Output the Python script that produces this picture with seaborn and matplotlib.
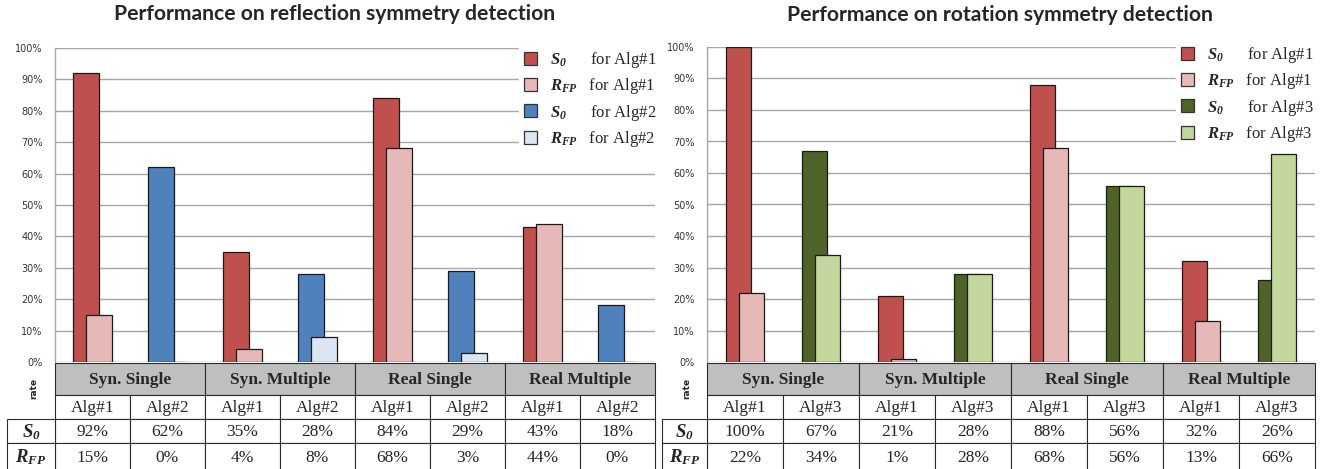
import numpy as np
import pandas as pd
import matplotlib
matplotlib.use("Agg")
import matplotlib.pyplot as plt
import seaborn as sns
from matplotlib.patches import Rectangle, Patch

# ---------------- data ----------------
categories = ["Syn. Single", "Syn. Multiple", "Real Single", "Real Multiple"]
algs_left = ["Alg#1", "Alg#2"]
algs_right = ["Alg#1", "Alg#3"]

refl_alg1_s0 = [92, 35, 84, 43]
refl_alg1_rfp = [15, 4, 68, 44]
refl_alg2_s0 = [62, 28, 29, 18]
refl_alg2_rfp = [0, 8, 3, 0]

rot_alg1_s0 = [100, 21, 88, 32]
rot_alg1_rfp = [22, 1, 68, 13]
rot_alg3_s0 = [67, 28, 56, 26]
rot_alg3_rfp = [34, 28, 56, 66]

ytick_vals = [0, 10, 20, 30, 40, 50, 60, 70, 80, 90, 100]
ytick_labels = [f"{v}%" for v in ytick_vals]

title_left = "Performance on reflection symmetry detection"
title_right = "Performance on rotation symmetry detection"

colors_left = {"S0 Alg#1": "#C0504D", "RFP Alg#1": "#E6B9B8",
               "S0 Alg#2": "#4F81BD", "RFP Alg#2": "#DCE6F2"}
colors_right = {"S0 Alg#1": "#C0504D", "RFP Alg#1": "#E6B9B8",
                "S0 Alg#3": "#4F6228", "RFP Alg#3": "#C3D69B"}

# ---------------- style ----------------
sns.set_theme(style="white")
plt.rcParams["font.family"] = ["DejaVu Sans"]
plt.rcParams["mathtext.fontset"] = "custom"
plt.rcParams["mathtext.it"] = "Liberation Serif:italic:bold"
plt.rcParams["mathtext.rm"] = "Liberation Serif:italic:bold"
plt.rcParams["mathtext.bf"] = "Liberation Serif:italic:bold"

W, H = 1321, 469
fig = plt.figure(figsize=(W / 100, H / 100), dpi=100)


def ax_px(x0, y0, x1, y1, **kw):
    return fig.add_axes([x0 / W, 1 - y1 / H, (x1 - x0) / W, (y1 - y0) / H], **kw)


OFF = 0.087
BW = 0.335
SERIF = "Liberation Serif"
S0_TXT = r"$\mathit{S_0}$"
RFP_TXT = r"$\mathit{R_{FP}}$"


def draw_bars(ax, algs, s0_a, rfp_a, s0_b, rfp_b, colors):
    rows = []
    for g in range(len(categories)):
        for k, (alg, s0, rfp) in enumerate([(algs[0], s0_a[g], rfp_a[g]),
                                            (algs[1], s0_b[g], rfp_b[g])]):
            col = 2 * g + k
            rows.append(dict(pos=col - OFF, val=s0 / 100, series=f"S0 {alg}", metric="S0"))
            rows.append(dict(pos=col + OFF, val=rfp / 100, series=f"RFP {alg}", metric="RFP"))
    df = pd.DataFrame(rows)
    for z, metric in enumerate(["S0", "RFP"]):
        sub = df[df.metric == metric]
        sns.barplot(data=sub, x="pos", y="val", hue="series", palette=colors,
                    native_scale=True, width=BW, dodge=False, errorbar=None,
                    saturation=1, edgecolor="#1a1a1a", linewidth=0.9,
                    legend=False, ax=ax, zorder=3 + z)
    ax.set_xlim(-0.5, 7.5)
    ax.set_ylim(0, 1)
    ax.set_yticks([v / 100 for v in ytick_vals])
    ax.set_yticklabels(ytick_labels, fontsize=7, color="#333333")
    ax.tick_params(axis="y", length=0, pad=9)
    ax.set_xticks([])
    ax.set_xlabel("")
    ax.set_ylabel("")
    ax.grid(axis="y", color="#A6A6A6", linewidth=1.0)
    ax.set_axisbelow(True)
    for s in ["top", "right", "bottom"]:
        ax.spines[s].set_visible(False)
    ax.spines["left"].set_color("#A6A6A6")
    ax.spines["left"].set_linewidth(1.0)
    ax.patch.set_alpha(0)

    handles = [Patch(facecolor=colors[f"S0 {algs[0]}"], edgecolor="#333333", lw=0.9),
               Patch(facecolor=colors[f"RFP {algs[0]}"], edgecolor="#333333", lw=0.9),
               Patch(facecolor=colors[f"S0 {algs[1]}"], edgecolor="#333333", lw=0.9),
               Patch(facecolor=colors[f"RFP {algs[1]}"], edgecolor="#333333", lw=0.9)]
    labels = [S0_TXT + "      for " + algs[0], RFP_TXT + "   for " + algs[0],
              S0_TXT + "      for " + algs[1], RFP_TXT + "   for " + algs[1]]
    return handles, labels


def add_legend(ax, handles, labels, x, y, w):
    leg = ax.legend(handles, labels, loc="upper left",
                    bbox_to_anchor=(x / W, 1 - y / H, w / W, 0.0001),
                    bbox_transform=fig.transFigure, mode="expand",
                    frameon=True, fancybox=False, framealpha=1,
                    edgecolor="white", facecolor="white",
                    prop={"family": SERIF, "size": 12}, handlelength=0.8,
                    handleheight=0.8, labelspacing=0.38, handletextpad=0.75,
                    borderpad=0.3, borderaxespad=0)
    leg.set_zorder(10)
    return leg


# left panel
axL = ax_px(55, 48, 655, 362)
hL, lL = draw_bars(axL, algs_left, refl_alg1_s0, refl_alg1_rfp,
                   refl_alg2_s0, refl_alg2_rfp, colors_left)
add_legend(axL, hL, lL, 519, 45, 140)

# right panel
axR = ax_px(707, 47, 1315, 362)
hR, lR = draw_bars(axR, algs_right, rot_alg1_s0, rot_alg1_rfp,
                   rot_alg3_s0, rot_alg3_rfp, colors_right)
add_legend(axR, hR, lR, 1176, 40, 146)

# ---------------- overlay (titles + tables) ----------------
ov = fig.add_axes([0, 0, 1, 1], zorder=20)
ov.set_xlim(0, W)
ov.set_ylim(H, 0)
ov.axis("off")
ov.patch.set_alpha(0)

ov.text(335, 14, title_left, ha="center", va="center", fontsize=15.2,
        fontweight="bold", family="Lato")
ov.text(1000, 15, title_right, ha="center", va="center", fontsize=15.2,
        fontweight="bold", family="Lato")

LINE = "#2b2b2b"
Y_H0, Y_H1, Y_A1, Y_S1, Y_R1 = 363, 395, 419, 443, 470


def draw_table(x0, x1, lab_x0, algs, s0_a, rfp_a, s0_b, rfp_b):
    colw = (x1 - x0) / 8
    for g, cat in enumerate(categories):
        gx = x0 + g * 2 * colw
        ov.add_patch(Rectangle((gx, Y_H0), 2 * colw, Y_H1 - Y_H0,
                               facecolor="#BFBFBF", edgecolor=LINE, lw=0.8))
        ov.text(gx + colw, (Y_H0 + Y_H1) / 2 + 1, cat, ha="center", va="center",
                fontsize=12.5, fontweight="bold", family=SERIF)
    for g in range(len(categories)):
        vals = [(algs[0], s0_a[g], rfp_a[g]), (algs[1], s0_b[g], rfp_b[g])]
        for k, (alg, s0, rfp) in enumerate(vals):
            cx = x0 + (2 * g + k) * colw
            for (ya, yb, txt) in [(Y_H1, Y_A1, alg), (Y_A1, Y_S1, f"{s0}%"),
                                  (Y_S1, Y_R1, f"{rfp}%")]:
                ov.add_patch(Rectangle((cx, ya), colw, yb - ya, facecolor="white",
                                       edgecolor=LINE, lw=0.8))
                ov.text(cx + colw / 2, (ya + yb) / 2 + 1, txt, ha="center",
                        va="center", fontsize=12.5, family=SERIF)
    for (ya, yb, txt) in [(Y_A1, Y_S1, S0_TXT), (Y_S1, Y_R1, RFP_TXT)]:
        ov.add_patch(Rectangle((lab_x0, ya), x0 - lab_x0, yb - ya, facecolor="white",
                               edgecolor=LINE, lw=0.8))
        ov.text((lab_x0 + x0) / 2, (ya + yb) / 2 + 1, txt, ha="center",
                va="center", fontsize=13.5)
    ov.text(lab_x0 + (x0 - lab_x0) * 0.55, (Y_H0 + Y_A1) / 2 - 3, "rate",
            rotation=90, ha="center", va="center", fontsize=6.5, fontweight="bold")


draw_table(55, 655, 7, algs_left, refl_alg1_s0, refl_alg1_rfp,
           refl_alg2_s0, refl_alg2_rfp)
draw_table(707, 1315, 662, algs_right, rot_alg1_s0, rot_alg1_rfp,
           rot_alg3_s0, rot_alg3_rfp)

fig.savefig("out.png", dpi=100)
